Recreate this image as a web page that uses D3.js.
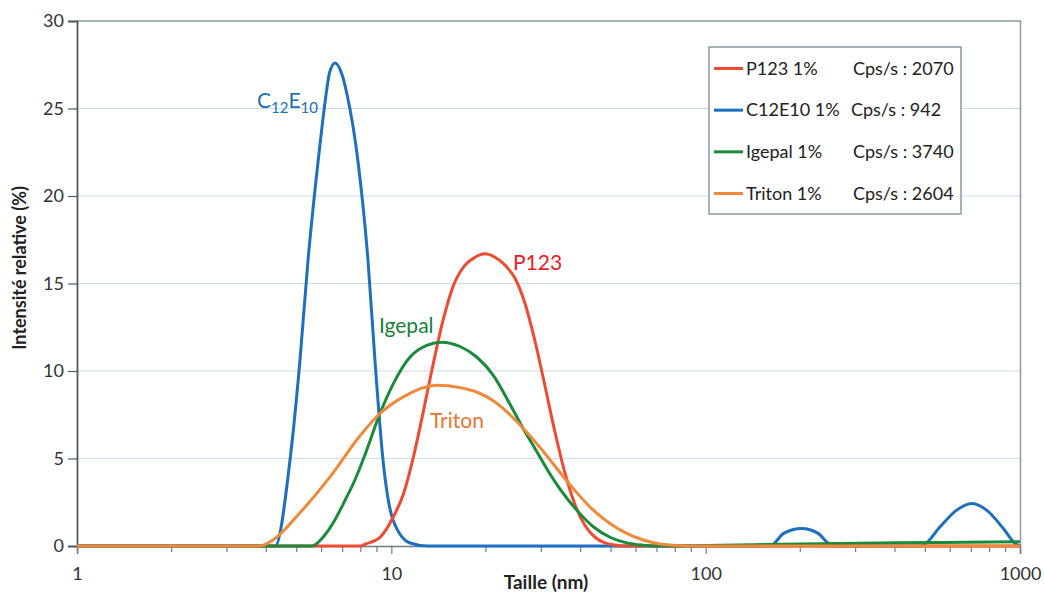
<!DOCTYPE html>
<html>
<head>
<meta charset="utf-8">
<script src="https://cdn.jsdelivr.net/npm/d3@7"></script>
<style>
  html, body { margin: 0; padding: 0; background: #ffffff; }
  svg { display: block; font-family: Lato, "Open Sans", sans-serif; }
</style>
</head>
<body>
<svg id="chart" width="1044" height="596"></svg>
<script>
// ---- data ----
const seriesNames = ["P123 1%", "C12E10 1%", "Igepal 1%", "Triton 1%"];
const seriesCps = ["Cps/s : 2070", "Cps/s : 942", "Cps/s : 3740", "Cps/s : 2604"];

const sizesP123 = [1, 8.0, 8.25, 9.2, 10.15, 10.92, 11.75, 12.64, 13.44, 14.63, 15.75, 17.16, 18.46, 19.86, 21.37, 22.99, 24.74, 26.62, 28.65, 30.82, 33.17, 35.69, 38.4, 41.32, 44.46, 47.84, 51.48, 55.4, 1000];
const valuesP123 = [0, 0, 0.1, 0.49, 1.67, 2.96, 5.07, 7.68, 10.0, 12.95, 14.87, 16.05, 16.5, 16.7, 16.5, 16.05, 15.3, 13.86, 11.7, 9.14, 6.5, 4.16, 2.36, 1.17, 0.5, 0.18, 0.06, 0, 0];

const sizesC12E10 = [1, 4.0, 4.27, 4.76, 5.12, 5.43, 5.85, 6.2, 6.35, 6.62, 6.95, 7.23, 7.83, 8.43, 8.87, 9.41, 10.12, 11.47, 13.0, 149, 162, 177, 202, 228, 246, 262, 480, 493, 557, 629, 702, 783, 885, 964, 1000];
const valuesC12E10 = [0, 0, 0, 4.9, 10.6, 16.3, 22.0, 25.8, 27.0, 27.6, 27.0, 25.8, 22.0, 16.3, 10.6, 4.9, 1.5, 0.17, 0, 0, 0.05, 0.72, 1.0, 0.72, 0.15, 0, 0, 0.05, 1.1, 2.05, 2.43, 2.05, 1.0, 0.15, 0];

const sizesIgepal = [1, 5.58, 6.06, 6.62, 7.12, 7.67, 8.24, 9.2, 10.15, 11.47, 12.96, 14.47, 16.54, 18.69, 21.1, 23.85, 26.29, 29.01, 31.5, 34.41, 38.89, 43.91, 49.63, 56.09, 63.34, 71.6, 100, 200, 400, 1000];
const valuesIgepal = [0, 0, 0.5, 1.5, 2.6, 3.8, 5.2, 7.57, 9.28, 10.8, 11.47, 11.65, 11.4, 10.8, 9.75, 8.1, 6.7, 5.4, 4.3, 3.25, 2.05, 1.1, 0.5, 0.18, 0.05, 0, 0.03, 0.12, 0.18, 0.25];

const sizesTriton = [1, 3.82, 4.2, 5.12, 6.38, 7.95, 9.2, 10.92, 13.95, 16.54, 18.69, 21.1, 23.85, 26.96, 30.45, 34.41, 38.89, 43.91, 49.63, 56.09, 63.34, 71.6, 82.9, 91.2, 1000];
const valuesTriton = [0, 0, 0.34, 1.9, 3.95, 6.3, 7.57, 8.52, 9.18, 9.05, 8.8, 8.3, 7.5, 6.5, 5.4, 4.2, 3.05, 2.05, 1.29, 0.72, 0.34, 0.11, 0.02, 0, 0];

const xTickValues = [1, 10, 100, 1000];
const yTickValues = [0, 5, 10, 15, 20, 25, 30];

const colors = { P123: "#ee4b32", C12E10: "#1e6fc0", Igepal: "#1a8a3c", Triton: "#ef8a3a" };

// ---- layout ----
const svg = d3.select("#chart");
const mLeft = 77, mRight = 1020, mTop = 21, mBottom = 546;

const x = d3.scaleLog().domain([1, 1000]).range([mLeft, mRight]);
const y = d3.scaleLinear().domain([0, 30]).range([mBottom, mTop]);

// grid lines
svg.append("g").selectAll("line")
  .data(yTickValues.filter(v => v > 0 && v < 30))
  .join("line")
  .attr("x1", mLeft).attr("x2", mRight)
  .attr("y1", d => y(d)).attr("y2", d => y(d))
  .attr("stroke", "#c9dcea").attr("stroke-width", 1.2);

// plot border (top and right)
svg.append("path")
  .attr("d", `M${mLeft},${y(30)}H${mRight + 0.5}V${mBottom}`)
  .attr("fill", "none").attr("stroke", "#8b9aa5").attr("stroke-width", 1.5);

// y axis
const yAxis = d3.axisLeft(y).tickValues(yTickValues).tickSize(9).tickPadding(4).tickFormat(d3.format("d"));
const gy = svg.append("g").attr("transform", `translate(${mLeft},0)`).call(yAxis);
gy.select(".domain").attr("stroke", "#4e5c66").attr("stroke-width", 1.8);
gy.selectAll(".tick line").attr("stroke", "#4e5c66").attr("stroke-width", 1.2);
gy.selectAll(".tick text").attr("font-size", 18).attr("fill", "#333").attr("font-family", "Lato, sans-serif");

// x axis with minor ticks
const minor = [];
[1, 10, 100].forEach(dec => { for (let k = 2; k <= 9; k++) minor.push(dec * k); });
svg.append("g").selectAll("line").data(minor).join("line")
  .attr("x1", d => x(d)).attr("x2", d => x(d))
  .attr("y1", mBottom).attr("y2", mBottom + 6)
  .attr("stroke", "#6f7c86").attr("stroke-width", 1.2);
const xAxis = d3.axisBottom(x).tickValues(xTickValues).tickSize(8).tickPadding(13).tickFormat(d3.format("d"));
const gx = svg.append("g").attr("transform", `translate(0,${mBottom})`).call(xAxis);
gx.select(".domain").attr("stroke", "#6f7c86").attr("stroke-width", 1.5);
gx.selectAll(".tick line").attr("stroke", "#6f7c86").attr("stroke-width", 1.2);
gx.selectAll(".tick text").attr("font-size", 18).attr("fill", "#333").attr("font-family", "Lato, sans-serif");

// series
const line = d3.line().x(d => x(d[0])).y(d => y(d[1])).curve(d3.curveMonotoneX);
const series = [
  { key: "C12E10", s: sizesC12E10, v: valuesC12E10 },
  { key: "P123", s: sizesP123, v: valuesP123 },
  { key: "Igepal", s: sizesIgepal, v: valuesIgepal },
  { key: "Triton", s: sizesTriton, v: valuesTriton }
];
series.forEach(se => {
  svg.append("path")
    .datum(se.s.map((sz, i) => [sz, se.v[i]]))
    .attr("d", line)
    .attr("fill", "none")
    .attr("stroke", colors[se.key])
    .attr("stroke-width", 3)
    .attr("stroke-linejoin", "round");
});

// curve labels
const c12 = svg.append("text").attr("x", 257).attr("y", 108)
  .attr("font-size", 21).attr("fill", "#2270b8");
c12.append("tspan").text("C");
c12.append("tspan").attr("font-size", 15).attr("dy", 5).text("12");
c12.append("tspan").attr("dy", -5).text("E");
c12.append("tspan").attr("font-size", 15).attr("dy", 5).text("10");

svg.append("text").attr("x", 513).attr("y", 270).attr("font-size", 21).attr("fill", "#ed1c24").text("P123");
svg.append("text").attr("x", 379).attr("y", 333).attr("font-size", 21).attr("fill", "#17823c").text("Igepal");
svg.append("text").attr("x", 430).attr("y", 428).attr("font-size", 21).attr("fill", "#e8762e").text("Triton");

// axis titles
svg.append("text").attr("x", 546).attr("y", 589).attr("text-anchor", "middle")
  .attr("font-size", 19).attr("font-weight", "bold").attr("fill", "#222").text("Taille (nm)");
svg.append("text").attr("transform", "translate(26,268) rotate(-90)").attr("text-anchor", "middle")
  .attr("font-size", 18).attr("font-weight", "bold").attr("fill", "#222").text("Intensité relative (%)");

// legend
const lg = svg.append("g");
lg.append("rect").attr("x", 709).attr("y", 47).attr("width", 252).attr("height", 167)
  .attr("fill", "#fff").attr("stroke", "#8b9aa5").attr("stroke-width", 1.5);
const legendKeys = ["P123", "C12E10", "Igepal", "Triton"];
const rowY = d3.scalePoint().domain(legendKeys).range([68.5, 193.5]);
legendKeys.forEach((k, i) => {
  const yy = rowY(k);
  lg.append("line").attr("x1", 714).attr("x2", 743).attr("y1", yy).attr("y2", yy)
    .attr("stroke", colors[k]).attr("stroke-width", 3);
  lg.append("text").attr("x", 746).attr("y", yy).attr("dy", "0.35em")
    .attr("font-size", 18).attr("fill", "#222").text(seriesNames[i]);
  lg.append("text").attr("x", i === 1 ? 851 : 853).attr("y", yy).attr("dy", "0.35em")
    .attr("font-size", 18).attr("fill", "#222").text(seriesCps[i]);
});
</script>
</body>
</html>
